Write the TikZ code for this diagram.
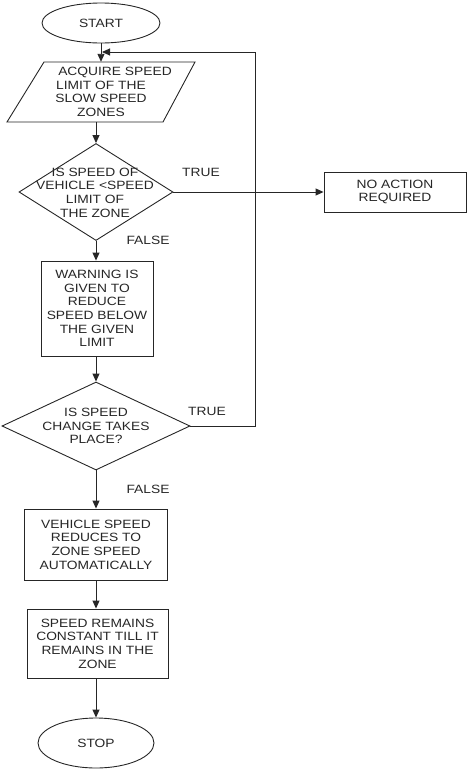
\documentclass[tikz,border=0pt]{standalone}
\usepackage{fontspec}
\setmainfont{Liberation Sans}[FakeStretch=1.15]
\usetikzlibrary{shapes.geometric,arrows.meta}
\begin{document}
\begin{tikzpicture}[x=1pt,y=-1pt,
  every node/.style={font=\fontsize{12}{13.7}\selectfont, text=black!85},
  line/.style={draw=black!85, line width=0.9pt},
  arr/.style={line, -{Triangle[length=8pt,width=7pt]}},
  term/.style={ellipse, line, minimum width=118pt, minimum height=40pt, inner sep=0pt},
  procbox/.style={rectangle, line, align=center, inner sep=0pt},
  decide/.style={diamond, line, inner sep=0pt},
  txt/.style={align=center, inner sep=0pt},
  lbl/.style={inner sep=0pt}
]
\useasboundingbox (0,0) rectangle (474,772);

% START
\node[term] (start) at (101,23) {START};

% input parallelogram
\draw[line] (44,62) -- (195,62) -- (163,122) -- (7,122) -- cycle;
\node[txt, minimum width=120pt, minimum height=60pt] (para) at (101,92)
  {\hspace*{28pt}ACQUIRE SPEED\\LIMIT OF THE\\SLOW SPEED\\ZONES};

% decision 1
\node[decide, minimum width=154pt, minimum height=97pt] (d1) at (96,192) {};
\node[txt] (d1t) at (95,192.5) {IS SPEED OF\\VEHICLE <SPEED\\LIMIT OF\\THE ZONE};

% no action
\node[procbox, minimum width=142pt, minimum height=40pt] (na) at (395,192) {NO ACTION\\REQUIRED};

% warning
\node[procbox, minimum width=112pt, minimum height=95pt] (warn) at (97,308.5)
  {WARNING IS\\GIVEN TO\\REDUCE\\SPEED BELOW\\THE GIVEN\\LIMIT};

% decision 2
\node[decide, minimum width=188pt, minimum height=88pt] (d2) at (96,426) {};
\node[txt] (d2t) at (96,426) {IS SPEED\\CHANGE TAKES\\PLACE?};

% reduce
\node[procbox, minimum width=143pt, minimum height=71pt] (red) at (96,544.5)
  {VEHICLE SPEED\\REDUCES TO\\ZONE SPEED\\AUTOMATICALLY};

% remains
\node[procbox, minimum width=141pt, minimum height=69pt] (rem) at (97.5,643.5)
  {SPEED REMAINS\\CONSTANT TILL IT\\REMAINS IN THE\\ZONE};

% STOP
\node[term, minimum width=116pt, minimum height=50pt] (stop) at (96,743) {STOP};

% labels
\node[lbl] (t1) at (201,172) {TRUE};
\node[lbl] (f1) at (148,240) {FALSE};
\node[lbl] (t2) at (207,411) {TRUE};
\node[lbl] (f2) at (148,489) {FALSE};

% coordinates for the loop
\coordinate (join) at (102,52);
\coordinate (lt) at (255,52);

% connectors
\draw[arr] (start.south) -- (start.south |- para.north);
\draw[arr] (para.south -| d1.north) -- (d1.north);
\draw[arr] (d1.east) -- (na.west);
\draw[arr] (d1.south) -- (d1.south |- warn.north);
\draw[arr] (warn.south -| d2.north) -- (d2.north);
\draw[arr] (d2.south) -- (d2.south |- red.north);
\draw[arr] (red.south -| d2.south) -- (d2.south |- rem.north);
\draw[arr] (rem.south -| stop.north) -- (stop.north);
\draw[arr] (d2.east) -| (lt) -- (join);
\end{tikzpicture}
\end{document}
